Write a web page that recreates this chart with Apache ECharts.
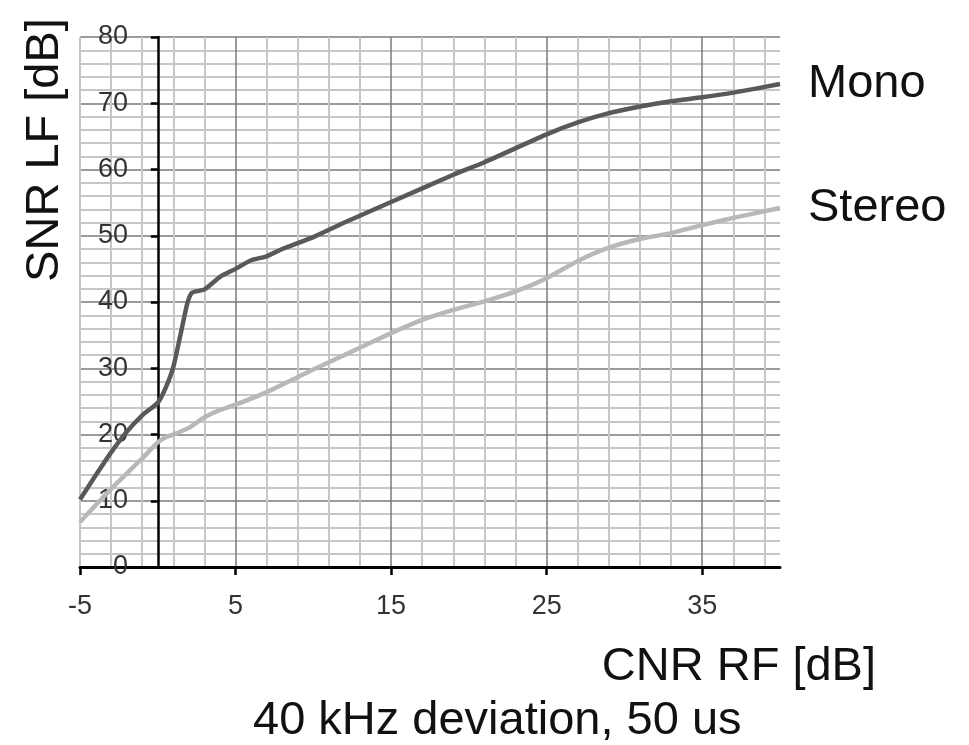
<!DOCTYPE html>
<html>
<head>
<meta charset="utf-8">
<script src="https://cdn.jsdelivr.net/npm/echarts@6/dist/echarts.min.js"></script>
<style>
  html, body { margin: 0; padding: 0; background: #fff; }
  #chart { width: 969px; height: 745px; }
</style>
</head>
<body>
<div id="chart"></div>
<script>
// DATA
var monoCnr = [-5, -4, -3, -2, -1, 0, 0.5, 1, 1.5, 1.9, 2.2, 3, 4, 5, 6, 7, 8, 10, 12, 15, 19, 21, 25, 27, 29, 31, 33, 35, 37, 40];
var monoSnr = [10.2, 13.8, 17.3, 20.4, 22.9, 24.8, 27, 30.2, 35.5, 39.8, 41.4, 41.9, 43.8, 45, 46.3, 46.9, 48, 49.8, 52, 55.1, 59.2, 61.1, 65.3, 67.1, 68.5, 69.5, 70.3, 70.9, 71.6, 72.9];

var stereoCnr = [-5, -4, -3, -2, -1, 0, 0.5, 1, 2, 3, 4, 5, 7, 10, 12, 15, 17, 19, 21, 23, 25, 27, 29, 31, 33, 35, 37, 40];
var stereoSnr = [6.8, 9.3, 11.8, 14.1, 16.4, 18.8, 19.6, 20, 21, 22.6, 23.7, 24.5, 26.4, 29.8, 32, 35.3, 37.3, 38.8, 40.1, 41.6, 43.6, 46.2, 48.2, 49.5, 50.4, 51.6, 52.7, 54.2];

var xTicks = [-5, 5, 15, 25, 35];
var xMinorLines = [-5, -3, -1, 1, 3, 7, 9, 11, 13, 17, 19, 21, 23, 27, 29, 31, 33, 37, 39];

var FONT = "'Liberation Sans', Arial, sans-serif";

function pairs(xs, ys) {
	var out = [];
	for (var i = 0; i < xs.length; i++) {
		out.push([xs[i], ys[i]]);
	}
	return out;
}

var myChart = echarts.init(document.getElementById('chart'));

var option = {
	animation: false,
	backgroundColor: '#fff',
	grid: {
		left: 80, right: 189, top: 37, bottom: 178,
		outerBoundsMode: 'none'
	},
	xAxis: [{
		type: 'value',
		min: -5,
		max: 40,
		axisLine: { onZero: true, lineStyle: { color: '#000', width: 3 } },
		axisTick: {
			customValues: xTicks,
			length: 8,
			lineStyle: { color: '#000', width: 2.5 }
		},
		axisLabel: {
			customValues: xTicks,
			margin: 26,
			fontSize: 27,
			fontFamily: FONT,
			color: '#333'
		},
		splitLine: {
			show: true,
			customValues: xTicks,
			showMinLine: false,
			lineStyle: { color: '#7a7a7a', width: 1.5 }
		}
	}, {
		type: 'value',
		min: -5,
		max: 40,
		position: 'bottom',
		axisLine: { show: false },
		axisTick: { show: false, customValues: xMinorLines },
		axisLabel: { show: false },
		splitLine: {
			show: true,
			customValues: xMinorLines,
			lineStyle: { color: '#c6c6c6', width: 2 }
		}
	}],
	yAxis: {
		type: 'value',
		min: 0,
		max: 80,
		interval: 10,
		axisLine: {
			show: true,
			onZero: true,
			onZeroAxisIndex: 0,
			lineStyle: { color: '#000', width: 2.5 }
		},
		axisTick: { show: true, length: 7, lineStyle: { color: '#000', width: 2.5 } },
		axisLabel: {
			// labels stay at the grid edge, so pull them in next to the zero line
			margin: -48,
			fontSize: 27,
			fontFamily: FONT,
			color: '#333'
		},
		splitLine: {
			show: true,
			showMinLine: false,
			lineStyle: { color: '#7a7a7a', width: 1.5 }
		},
		minorTick: { show: false, splitNumber: 5 },
		minorSplitLine: { show: true, lineStyle: { color: '#c6c6c6', width: 2 } }
	},
	series: [{
		name: 'Mono',
		type: 'line',
		xAxisIndex: 0,
		data: pairs(monoCnr, monoSnr),
		showSymbol: false,
		smooth: 0.2,
		lineStyle: { color: '#595959', width: 4.5 },
		endLabel: {
			show: true,
			formatter: '{a}',
			distance: 28,
			fontSize: 47,
			fontFamily: FONT,
			color: '#111'
		}
	}, {
		name: 'Stereo',
		type: 'line',
		xAxisIndex: 0,
		data: pairs(stereoCnr, stereoSnr),
		showSymbol: false,
		smooth: 0.2,
		lineStyle: { color: '#b8b8b8', width: 4.5 },
		endLabel: {
			show: true,
			formatter: '{a}',
			distance: 28,
			fontSize: 47,
			fontFamily: FONT,
			color: '#111'
		}
	}],
	graphic: [{
		type: 'text',
		x: 45,
		y: 150,
		rotation: Math.PI / 2,
		style: {
			text: 'SNR LF [dB]',
			font: '47px ' + FONT,
			fill: '#111',
			textAlign: 'center',
			textVerticalAlign: 'middle'
		}
	}, {
		type: 'text',
		x: 876,
		y: 667,
		style: {
			text: 'CNR RF [dB]',
			font: '47px ' + FONT,
			fill: '#111',
			textAlign: 'right',
			textVerticalAlign: 'middle'
		}
	}, {
		type: 'text',
		x: 253,
		y: 721,
		style: {
			text: '40 kHz deviation, 50 us',
			font: '47px ' + FONT,
			fill: '#111',
			textAlign: 'left',
			textVerticalAlign: 'middle'
		}
	}]
};

myChart.setOption(option);
</script>
</body>
</html>
